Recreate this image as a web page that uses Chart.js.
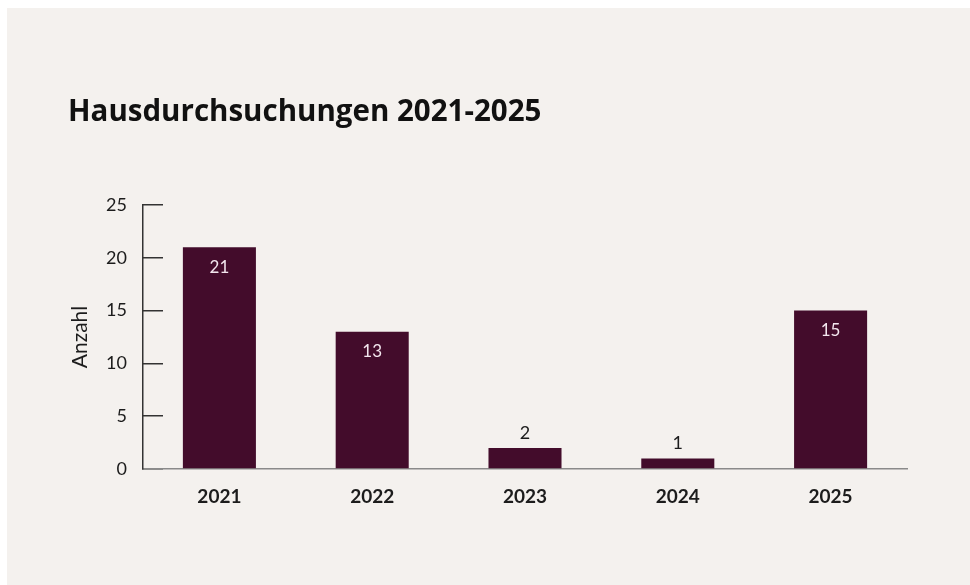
<!DOCTYPE html>
<html>
<head>
<meta charset="utf-8">
<script src="https://cdn.jsdelivr.net/npm/chart.js@4"></script>
<style>
  html, body { margin: 0; padding: 0; background: #ffffff; }
  #panel { position: absolute; left: 7px; top: 8px; right: 0; bottom: 0; background: #f4f1ee; }
  #wrap { position: absolute; left: 0; top: 0; width: 970px; height: 585px; }
</style>
</head>
<body>
<div id="panel"></div>
<div id="wrap"><canvas id="chart" width="970" height="585"></canvas></div>
<script>
// data
const years  = ['2021', '2022', '2023', '2024', '2025'];
const counts = [21, 13, 2, 1, 15];
const yTicks = [0, 5, 10, 15, 20, 25];

const C = {
  bar     : '#430c2b',
  text    : '#1c1c1c',
  axisY   : '#333333',
  axisX   : '#8a8a8a',
  inLabel : '#f3e6ee'
};

const FONT = 'Lato, "Open Sans", sans-serif';

// value labels: inside the bar for tall bars, above for short ones
const barLabels = {
  id: 'barLabels',
  afterDatasetsDraw(chart) {
    const ctx  = chart.ctx;
    const meta = chart.getDatasetMeta(0);
    ctx.save();
    ctx.textAlign = 'center';
    ctx.textBaseline = 'middle';
    meta.data.forEach((bar, i) => {
      const v = counts[i];
      if (v >= 10) {
        ctx.font = '17px ' + FONT;
        ctx.fillStyle = C.inLabel;
        ctx.fillText(String(v), bar.x, bar.y + 20);
      } else {
        ctx.font = '18px ' + FONT;
        ctx.fillStyle = C.text;
        ctx.fillText(String(v), bar.x, bar.y - 15);
      }
    });
    ctx.restore();
  }
};

new Chart(document.getElementById('chart').getContext('2d'), {
  type: 'bar',
  data: {
    labels: years,
    datasets: [{
      data              : counts,
      backgroundColor   : C.bar,
      borderWidth       : 0,
      barPercentage     : 0.478,
      categoryPercentage: 1.0
    }]
  },
  options: {
    responsive: false,
    animation : false,
    layout    : { padding: { left: 68, right: 63, top: 0, bottom: 0 } },
    plugins: {
      legend : { display: false },
      tooltip: { enabled: false },
      title  : {
        display: true,
        text   : 'Hausdurchsuchungen 2021-2025',
        align  : 'start',
        color  : '#111111',
        font   : { family: '"Open Sans", sans-serif', size: 29.5, weight: 'bold', lineHeight: 1.2 },
        padding: { top: 95, bottom: 74.6 }
      }
    },
    scales: {
      x: {
        grid  : { display: false, drawTicks: false },
        border: { display: true, color: C.axisX, width: 1.5 },
        ticks : {
          color  : C.text,
          font   : { family: FONT, size: 19, weight: 'bold' },
          padding: 16
        },
        afterFit: s => { s.height = 116; }
      },
      y: {
        min: 0,
        max: 25,
        afterBuildTicks: s => { s.ticks = yTicks.map(v => ({ value: v })); },
        grid  : {
          display        : true,
          drawOnChartArea: false,
          drawTicks      : true,
          tickLength     : -20,
          color          : C.axisY,
          lineWidth      : 1.5
        },
        border: { display: true, color: C.axisY, width: 1.5 },
        ticks : {
          color  : C.text,
          font   : { family: FONT, size: 18 },
          padding: 36
        },
        title: {
          display: true,
          text   : 'Anzahl',
          color  : C.text,
          font   : { family: FONT, size: 21 },
          padding: { top: 0, bottom: 0 }
        },
        afterFit: s => { s.width = 75; }
      }
    }
  },
  plugins: [barLabels]
});
</script>
</body>
</html>
